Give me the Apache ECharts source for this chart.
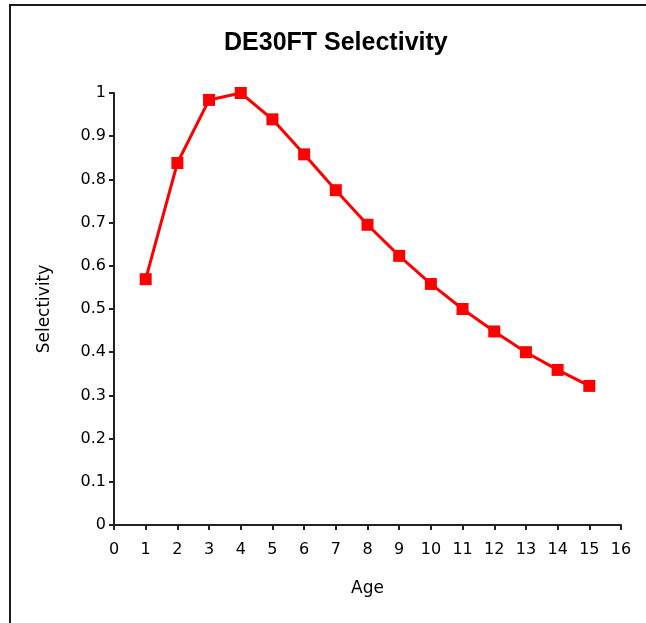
<!DOCTYPE html>
<html lang="en">
<head>
  <meta charset="UTF-8">
  <title>DE30FT Selectivity</title>
  <style>
    html, body { margin: 0; padding: 0; background: #fff; }
    #main { width: 646px; height: 623px; }
  </style>
</head>
<body>
<div id="main"></div>
<script src="https://cdn.jsdelivr.net/npm/echarts@6/dist/echarts.min.js"></script>
<script>
  // ages on the x axis and the fitted selectivity at each age
  var ages = [1, 2, 3, 4, 5, 6, 7, 8, 9, 10, 11, 12, 13, 14, 15];
  var selectivity = [0.569, 0.838, 0.984, 1.0, 0.939, 0.858, 0.775, 0.695, 0.623,
                     0.558, 0.500, 0.448, 0.400, 0.359, 0.322];

  var chart = echarts.init(document.getElementById('main'));

  var labelFont = 'DejaVu Sans, sans-serif';

  var option = {
    backgroundColor: '#fff',
    animation: false,
    title: {
      text: 'DE30FT Selectivity',
      left: 219,
      top: 26,
      textStyle: {
        fontFamily: 'Liberation Sans, Arial, sans-serif',
        fontWeight: 'bold',
        fontSize: 25,
        color: '#000'
      }
    },
    // frame on the left and top edges, like the original sheet
    graphic: [{
      type: 'polyline',
      shape: { points: [[10, 623], [10, 5], [646, 5]] },
      style: { stroke: '#1a1a1a', lineWidth: 2, fill: null }
    }],
    grid: { left: 114, right: 25, top: 93, bottom: 98 },
    xAxis: {
      type: 'value',
      min: 0,
      max: 16,
      interval: 1,
      name: 'Age',
      nameLocation: 'middle',
      nameGap: 55,
      nameTextStyle: { fontFamily: labelFont, fontSize: 17, color: '#000' },
      axisLine: { onZero: false, lineStyle: { color: '#222', width: 2 } },
      axisTick: { show: true, length: 5, inside: false, lineStyle: { color: '#222', width: 2 } },
      axisLabel: { margin: 17, fontFamily: labelFont, fontSize: 16, color: '#000' },
      splitLine: { show: false }
    },
    yAxis: {
      type: 'value',
      min: 0,
      max: 1,
      interval: 0.1,
      name: 'Selectivity',
      nameLocation: 'middle',
      nameGap: 61,
      nameRotate: 90,
      nameTextStyle: { fontFamily: labelFont, fontSize: 17, color: '#000' },
      axisLine: { show: true, lineStyle: { color: '#222', width: 2 } },
      axisTick: { show: true, length: 5, inside: false, lineStyle: { color: '#222', width: 2 } },
      axisLabel: { margin: 8, fontFamily: labelFont, fontSize: 16, color: '#000' },
      splitLine: { show: false }
    },
    series: [{
      type: 'line',
      data: ages.map(function (a, i) { return [a, selectivity[i]]; }),
      symbol: 'rect',
      symbolSize: 12,
      lineStyle: { color: '#ff0000', width: 3 },
      itemStyle: { color: '#ff0000' }
    }]
  };

  chart.setOption(option);
</script>
</body>
</html>
